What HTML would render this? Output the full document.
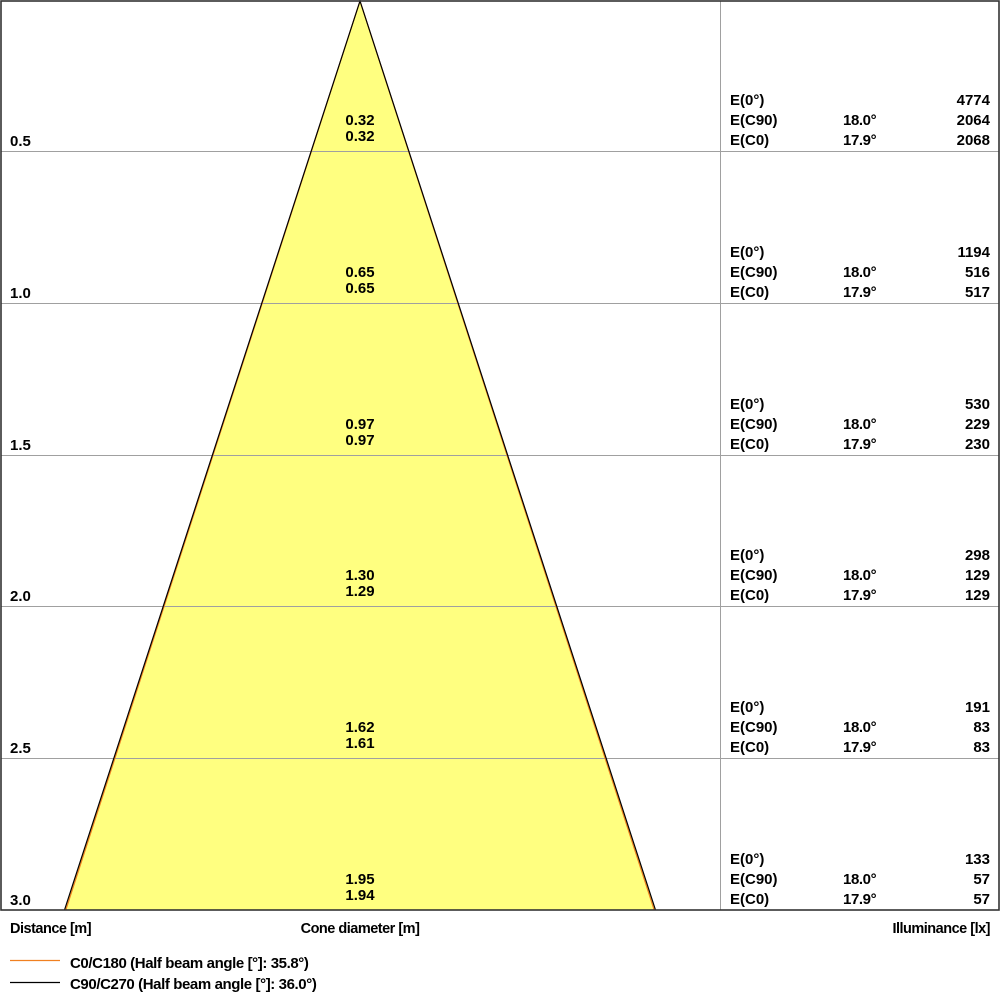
<!DOCTYPE html>
<html><head><meta charset="utf-8"><style>
html,body{margin:0;padding:0;background:#fff;}
svg{display:block;}
text{font-family:"Liberation Sans",Arial,sans-serif;font-weight:bold;font-size:15px;fill:#000;}
.t{font-size:14.5px;letter-spacing:-0.5px;}
.lg{font-size:15px;letter-spacing:-0.4px;}
.a{letter-spacing:-0.4px;}
</style></head><body>
<svg width="1000" height="1000" viewBox="0 0 1000 1000" xmlns="http://www.w3.org/2000/svg">
<rect x="0" y="0" width="1000" height="1000" fill="#fff"/>
<polygon points="360,1 64.5,910 655.5,910" fill="#ffff80"/>
<g stroke="#a0a0a0" stroke-width="1">
<line x1="1" y1="151.5" x2="999" y2="151.5"/>
<line x1="1" y1="303.5" x2="999" y2="303.5"/>
<line x1="1" y1="455.5" x2="999" y2="455.5"/>
<line x1="1" y1="606.5" x2="999" y2="606.5"/>
<line x1="1" y1="758.5" x2="999" y2="758.5"/>
<line x1="720.5" y1="1" x2="720.5" y2="910"/>
</g>
<g stroke-width="1.2" fill="none">
<polyline points="65.8,910 360,1 654.2,910" stroke="#f08020"/>
<polyline points="64.5,910 360,1 655.5,910" stroke="#000"/>
</g>
<rect x="1" y="1" width="998" height="909" fill="none" stroke="#333" stroke-width="1.6"/>

<!-- left distance labels -->
<text x="10" y="146">0.5</text>
<text x="10" y="298">1.0</text>
<text x="10" y="450">1.5</text>
<text x="10" y="601">2.0</text>
<text x="10" y="753">2.5</text>
<text x="10" y="905">3.0</text>

<!-- cone diameters -->
<g text-anchor="middle">
<text x="360" y="125">0.32</text><text x="360" y="141">0.32</text>
<text x="360" y="277">0.65</text><text x="360" y="293">0.65</text>
<text x="360" y="429">0.97</text><text x="360" y="445">0.97</text>
<text x="360" y="580">1.30</text><text x="360" y="596">1.29</text>
<text x="360" y="732">1.62</text><text x="360" y="748">1.61</text>
<text x="360" y="884">1.95</text><text x="360" y="900">1.94</text>
</g>

<!-- right illuminance blocks -->
<g>
<text x="730" y="105">E(0°)</text><text x="730" y="125">E(C90)</text><text x="730" y="145">E(C0)</text>
<text class="a" x="843" y="125">18.0°</text><text class="a" x="843" y="145">17.9°</text>
<text x="990" y="105" text-anchor="end">4774</text><text x="990" y="125" text-anchor="end">2064</text><text x="990" y="145" text-anchor="end">2068</text>

<text x="730" y="257">E(0°)</text><text x="730" y="277">E(C90)</text><text x="730" y="297">E(C0)</text>
<text class="a" x="843" y="277">18.0°</text><text class="a" x="843" y="297">17.9°</text>
<text x="990" y="257" text-anchor="end">1194</text><text x="990" y="277" text-anchor="end">516</text><text x="990" y="297" text-anchor="end">517</text>

<text x="730" y="409">E(0°)</text><text x="730" y="429">E(C90)</text><text x="730" y="449">E(C0)</text>
<text class="a" x="843" y="429">18.0°</text><text class="a" x="843" y="449">17.9°</text>
<text x="990" y="409" text-anchor="end">530</text><text x="990" y="429" text-anchor="end">229</text><text x="990" y="449" text-anchor="end">230</text>

<text x="730" y="560">E(0°)</text><text x="730" y="580">E(C90)</text><text x="730" y="600">E(C0)</text>
<text class="a" x="843" y="580">18.0°</text><text class="a" x="843" y="600">17.9°</text>
<text x="990" y="560" text-anchor="end">298</text><text x="990" y="580" text-anchor="end">129</text><text x="990" y="600" text-anchor="end">129</text>

<text x="730" y="712">E(0°)</text><text x="730" y="732">E(C90)</text><text x="730" y="752">E(C0)</text>
<text class="a" x="843" y="732">18.0°</text><text class="a" x="843" y="752">17.9°</text>
<text x="990" y="712" text-anchor="end">191</text><text x="990" y="732" text-anchor="end">83</text><text x="990" y="752" text-anchor="end">83</text>

<text x="730" y="864">E(0°)</text><text x="730" y="884">E(C90)</text><text x="730" y="904">E(C0)</text>
<text class="a" x="843" y="884">18.0°</text><text class="a" x="843" y="904">17.9°</text>
<text x="990" y="864" text-anchor="end">133</text><text x="990" y="884" text-anchor="end">57</text><text x="990" y="904" text-anchor="end">57</text>
</g>

<!-- axis titles -->
<text class="t" x="10" y="933">Distance [m]</text>
<text class="t" x="360" y="933" text-anchor="middle">Cone diameter [m]</text>
<text class="t" x="990" y="933" text-anchor="end">Illuminance [lx]</text>

<!-- legend -->
<line x1="10" y1="960.5" x2="60" y2="960.5" stroke="#f08020" stroke-width="1.2"/>
<text class="lg" x="70" y="968">C0/C180 (Half beam angle [°]: 35.8°)</text>
<line x1="10" y1="982.5" x2="60" y2="982.5" stroke="#000" stroke-width="1.2"/>
<text class="lg" x="70" y="989">C90/C270 (Half beam angle [°]: 36.0°)</text>
</svg>
</body></html>
